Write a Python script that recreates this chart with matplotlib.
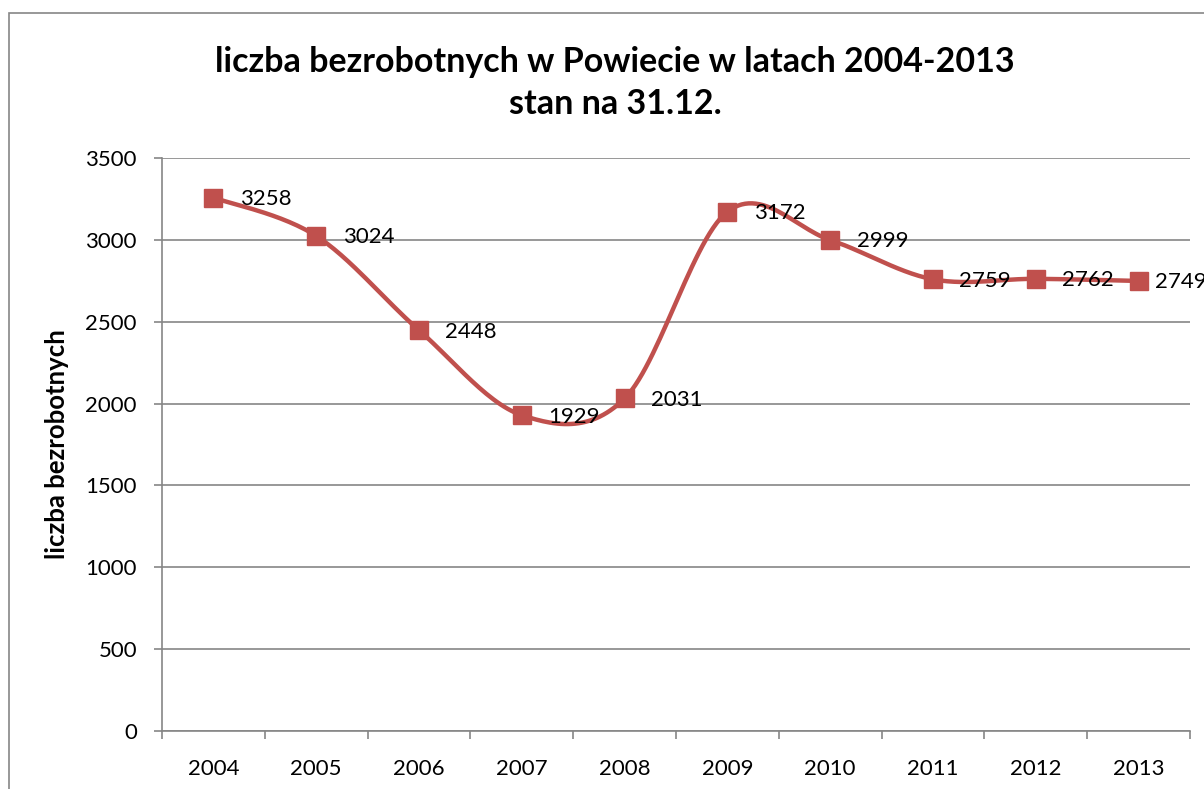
import matplotlib

matplotlib.use("Agg")

import matplotlib.pyplot as plt
import numpy as np
from matplotlib.patches import Rectangle


YEARS = ["2004", "2005", "2006", "2007", "2008", "2009", "2010", "2011", "2012", "2013"]
UNEMPLOYED = [3258, 3024, 2448, 1929, 2031, 3172, 2999, 2759, 2762, 2749]

TITLE = "liczba bezrobotnych w Powiecie w latach 2004-2013\nstan na 31.12."
Y_LABEL = "liczba bezrobotnych"

W, H = 1204, 789
LINE_COLOR = "#C0504D"
AXIS_COLOR = "#868686"

plt.rcParams["font.family"] = ["Lato", "DejaVu Sans"]


def smooth_curve(x, y, steps=30):
    # Excel-like smoothing: cubic Bezier with control points from neighbours
    x = np.asarray(x, dtype=float)
    y = np.asarray(y, dtype=float)
    px = np.concatenate([[x[0]], x, [x[-1]]])
    py = np.concatenate([[y[0]], y, [y[-1]]])
    xs, ys = [], []
    t = np.linspace(0, 1, steps)
    for i in range(len(x) - 1):
        p0 = np.array([px[i + 1], py[i + 1]])
        p3 = np.array([px[i + 2], py[i + 2]])
        c1 = p0 + (np.array([px[i + 2], py[i + 2]]) - np.array([px[i], py[i]])) / 6
        c2 = p3 - (np.array([px[i + 3], py[i + 3]]) - np.array([px[i + 1], py[i + 1]])) / 6
        b = ((1 - t) ** 3)[:, None] * p0 + (3 * (1 - t) ** 2 * t)[:, None] * c1 \
            + (3 * (1 - t) * t ** 2)[:, None] * c2 + (t ** 3)[:, None] * p3
        xs.extend(b[:, 0])
        ys.extend(b[:, 1])
    return np.array(xs), np.array(ys)


fig = plt.figure(figsize=(W / 100, H / 100), dpi=100)

# outer chart frame (cropped at right and bottom)
fig.patches.append(Rectangle((9 / W, -0.1), 1.2, (H - 13) / H + 0.1,
                             transform=fig.transFigure, fill=False,
                             edgecolor=AXIS_COLOR, linewidth=1.2))

ax = fig.add_axes([162 / W, (H - 731) / H, (1190 - 162) / W, (731 - 158) / H])

x = np.arange(len(YEARS))
sx, sy = smooth_curve(x, UNEMPLOYED)
ax.plot(sx, sy, color=LINE_COLOR, linewidth=3.2, zorder=3, clip_on=False)
ax.plot(x, UNEMPLOYED, linestyle="none", marker="s", markersize=13,
        color=LINE_COLOR, zorder=4, clip_on=False)

for xi, val in zip(x, UNEMPLOYED):
    # last label is pushed a little left to stay inside the chart area
    dx = 12 if xi == x[-1] else 19
    ax.annotate(str(val), (xi, val), xytext=(dx, -1), textcoords="offset points",
                ha="left", va="center", fontsize=16, color="black",
                zorder=5, annotation_clip=False)

ax.set_xlim(-0.5, len(YEARS) - 0.5)
ax.set_ylim(0, 3500)
ax.set_yticks(np.arange(0, 3501, 500))
ax.set_xticks(x)
ax.set_xticklabels(YEARS)
ax.set_xticks(np.arange(-0.5, len(YEARS), 1), minor=True)

ax.grid(axis="y", color=AXIS_COLOR, linewidth=1.2)
ax.set_axisbelow(True)
for side in ("top", "right"):
    ax.spines[side].set_visible(False)
for side in ("left", "bottom"):
    ax.spines[side].set_color(AXIS_COLOR)
    ax.spines[side].set_linewidth(1.2)

ax.tick_params(axis="y", length=6, color=AXIS_COLOR, width=1.2, labelsize=16, pad=12)
ax.tick_params(axis="x", which="major", length=0, labelsize=16, pad=20)
ax.tick_params(axis="x", which="minor", length=6, color=AXIS_COLOR, width=1.2)

ax.set_ylabel(Y_LABEL, fontsize=18.5, fontweight="bold", labelpad=12)

fig.text(615 / W, 1 - 83 / H, TITLE, ha="center", va="center",
         fontsize=24.5, fontweight="bold", linespacing=1.35)

fig.savefig("out.png", dpi=100)
